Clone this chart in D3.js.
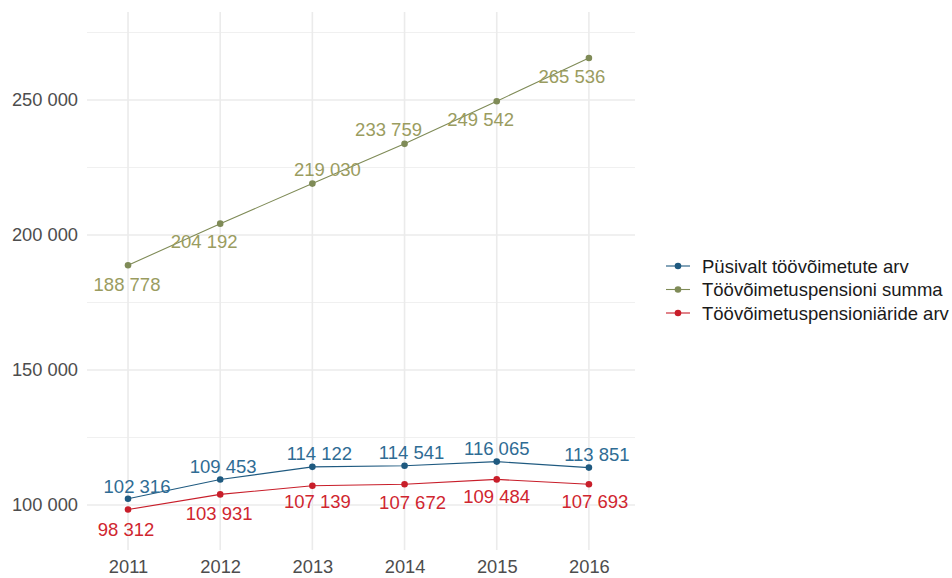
<!DOCTYPE html>
<html>
<head>
<meta charset="utf-8">
<script src="https://cdn.jsdelivr.net/npm/d3@7"></script>
<style>
  body { margin: 0; background: #fff; }
  text { font-family: "Liberation Sans", Arial, sans-serif; }
</style>
</head>
<body>
<script>
// data
var years = [2011, 2012, 2013, 2014, 2015, 2016];
var seriesNames = ["Püsivalt töövõimetute arv", "Töövõimetuspensioni summa", "Töövõimetuspensioniäride arv"];
var pysivalt = [102316, 109453, 114122, 114541, 116065, 113851];
var summa = [188778, 204192, 219030, 233759, 249542, 265536];
var saajad = [98312, 103931, 107139, 107672, 109484, 107693];
var yTicks = [100000, 150000, 200000, 250000];
var yMinor = [125000, 175000, 225000, 275000];

// styling
var lineColors = ["#1f5a80", "#7f8b57", "#c81e2a"];
var labelColors = ["#2f6c94", "#9a9c60", "#d0262f"];
// label offsets (dx, dy) from each point, repel-style
var labelOffsets = [
  [[9, -12], [3, -13], [7, -13], [7, -13], [0, -13], [8, -13]],
  [[-1, 19], [-16, 18], [15, -14], [-16, -14], [-16, 18], [-17, 18]],
  [[-2, 20], [-1, 19], [5, 16], [8, 18], [0, 17], [6, 17]]
];

var width = 952, height = 578;
var panel = { left: 87, right: 635, top: 12, bottom: 550 };

var svg = d3.select("body").append("svg")
  .attr("width", width)
  .attr("height", height);

var x = d3.scaleLinear()
  .domain([2010.555, 2016.5])
  .range([panel.left, panel.right]);

var y = d3.scaleLinear()
  .domain([83330, 282590])
  .range([panel.bottom, panel.top]);

var fmt = function(v) { return d3.format(",")(v).replace(/,/g, " "); };

// grid
var grid = svg.append("g");
grid.selectAll(".minor").data(yMinor).enter().append("line")
  .attr("x1", panel.left).attr("x2", panel.right)
  .attr("y1", function(d) { return y(d); }).attr("y2", function(d) { return y(d); })
  .attr("stroke", "#f0f0f0").attr("stroke-width", 1);
grid.selectAll(".major").data(yTicks).enter().append("line")
  .attr("x1", panel.left).attr("x2", panel.right)
  .attr("y1", function(d) { return y(d); }).attr("y2", function(d) { return y(d); })
  .attr("stroke", "#ebebeb").attr("stroke-width", 1.6);
grid.selectAll(".vert").data(years).enter().append("line")
  .attr("y1", panel.top).attr("y2", panel.bottom)
  .attr("x1", function(d) { return x(d); }).attr("x2", function(d) { return x(d); })
  .attr("stroke", "#ebebeb").attr("stroke-width", 1.6);

// axes
var yAxis = d3.axisLeft(y).tickValues(yTicks).tickFormat(fmt).tickSize(0).tickPadding(9);
svg.append("g")
  .attr("transform", "translate(" + panel.left + ",0)")
  .call(yAxis)
  .call(function(g) { g.select(".domain").remove(); })
  .selectAll("text")
  .attr("fill", "#4d4d4d")
  .style("font-size", "18.3px");

var xAxis = d3.axisBottom(x).tickValues(years).tickFormat(d3.format("d")).tickSize(0).tickPadding(10);
svg.append("g")
  .attr("transform", "translate(0," + panel.bottom + ")")
  .call(xAxis)
  .call(function(g) { g.select(".domain").remove(); })
  .selectAll("text")
  .attr("fill", "#4d4d4d")
  .style("font-size", "18.3px");

// lines, points and labels
var allSeries = [pysivalt, summa, saajad];
var line = d3.line()
  .x(function(d, i) { return x(years[i]); })
  .y(function(d) { return y(d); });

allSeries.forEach(function(values, s) {
  svg.append("path")
    .datum(values)
    .attr("d", line)
    .attr("fill", "none")
    .attr("stroke", lineColors[s])
    .attr("stroke-width", 1.1);

  svg.selectAll(".pt" + s).data(values).enter().append("circle")
    .attr("cx", function(d, i) { return x(years[i]); })
    .attr("cy", function(d) { return y(d); })
    .attr("r", 3.3)
    .attr("fill", lineColors[s]);
});

allSeries.forEach(function(values, s) {
  svg.selectAll(".lb" + s).data(values).enter().append("text")
    .attr("x", function(d, i) { return x(years[i]) + labelOffsets[s][i][0]; })
    .attr("y", function(d, i) { return y(d) + labelOffsets[s][i][1]; })
    .attr("text-anchor", "middle")
    .attr("dominant-baseline", "central")
    .attr("fill", labelColors[s])
    .style("font-size", "18.5px")
    .text(fmt);
});

// legend
var legend = svg.append("g").attr("transform", "translate(666,266)");
seriesNames.forEach(function(name, s) {
  var row = legend.append("g").attr("transform", "translate(0," + (s * 23.5) + ")");
  row.append("line")
    .attr("x1", 0).attr("x2", 24)
    .attr("stroke", lineColors[s]).attr("stroke-width", 1.1);
  row.append("circle")
    .attr("cx", 12).attr("r", 3.3)
    .attr("fill", lineColors[s]);
  row.append("text")
    .attr("x", 36)
    .attr("dominant-baseline", "central")
    .attr("fill", "#1a1a1a")
    .style("font-size", "18.5px")
    .text(name);
});
</script>
</body>
</html>
